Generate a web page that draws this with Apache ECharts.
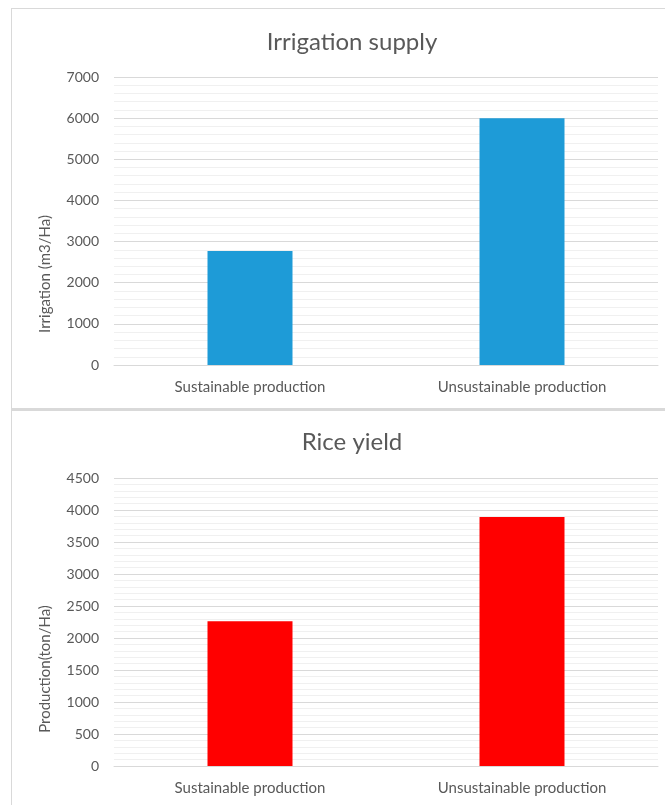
<!DOCTYPE html>
<html>
<head>
<meta charset="utf-8">
<script src="https://cdn.jsdelivr.net/npm/echarts@6/dist/echarts.min.js"></script>
<style>
  html, body { margin: 0; padding: 0; background: #ffffff; }
  #wrap { position: relative; width: 665px; height: 805px; overflow: hidden; }
  .frame { position: absolute; border: 1px solid #d9d9d9; background: #ffffff; }
  #frame1 { left: 11px; top: 8px; width: 700px; height: 399px; }
  #frame2 { left: 11px; top: 409px; width: 700px; height: 420px; border-top: 2px solid #d9d9d9; }
  #main { position: absolute; left: 0; top: 0; width: 665px; height: 805px; }
</style>
</head>
<body>
<div id="wrap">
  <div class="frame" id="frame1"></div>
  <div class="frame" id="frame2"></div>
  <div id="main"></div>
</div>
<script>
// Categories shared by both panels
const categories = ['Sustainable production', 'Unsustainable production'];

// Irrigation supply (m3/Ha)
const irrigationValues = [2770, 6000];
const irrigationMax = 7000;
const irrigationStep = 1000;

// Rice yield (ton/Ha)
const yieldValues = [2260, 3890];
const yieldMax = 4500;
const yieldStep = 500;

const textColor = '#595959';
const fontFamily = 'Lato, "Open Sans", sans-serif';

// nameShift pushes the rotated axis title down along the axis
function valueAxis(gridIndex, max, step, name, nameShift) {
  return {
    type: 'value',
    gridIndex: gridIndex,
    min: 0,
    max: max,
    interval: step,
    name: name,
    nameLocation: 'middle',
    nameGap: 61,
    nameTextStyle: {
      color: textColor, fontSize: 15, fontFamily: fontFamily,
      padding: [0, nameShift, 0, 0]
    },
    axisLine: { show: false },
    axisTick: { show: false },
    axisLabel: {
      color: textColor, fontSize: 14, fontFamily: fontFamily, margin: 15,
      formatter: function (v) { return String(v); }
    },
    splitLine: { show: true, lineStyle: { color: '#d9d9d9', width: 1 } },
    minorTick: { show: false, splitNumber: 5 },
    minorSplitLine: { show: true, lineStyle: { color: '#f0f0f0', width: 1 } }
  };
}

function categoryAxis(gridIndex) {
  return {
    type: 'category',
    gridIndex: gridIndex,
    data: categories,
    axisLine: { show: true, lineStyle: { color: '#d9d9d9', width: 1 } },
    axisTick: { show: false },
    axisLabel: { color: textColor, fontSize: 15, fontFamily: fontFamily, margin: 15 }
  };
}

const chart = echarts.init(document.getElementById('main'), null, { renderer: 'canvas' });
chart.setOption({
  backgroundColor: 'transparent',
  animation: false,
  title: [
    {
      text: 'Irrigation supply', left: 347, top: 25, textAlign: 'center',
      textStyle: { color: textColor, fontSize: 24, fontWeight: 'normal', fontFamily: fontFamily }
    },
    {
      text: 'Rice yield', left: 347, top: 425, textAlign: 'center',
      textStyle: { color: textColor, fontSize: 24, fontWeight: 'normal', fontFamily: fontFamily }
    }
  ],
  grid: [
    { left: 114, right: 7, top: 77, bottom: 440, containLabel: false },
    { left: 114, right: 7, top: 478, bottom: 39, containLabel: false }
  ],
  xAxis: [categoryAxis(0), categoryAxis(1)],
  yAxis: [
    valueAxis(0, irrigationMax, irrigationStep, 'Irrigation (m3/Ha)', 106),
    valueAxis(1, yieldMax, yieldStep, 'Production(ton/Ha)', 94)
  ],
  series: [
    {
      type: 'bar', xAxisIndex: 0, yAxisIndex: 0,
      data: irrigationValues, barWidth: 85,
      itemStyle: { color: '#1e9bd7' }
    },
    {
      type: 'bar', xAxisIndex: 1, yAxisIndex: 1,
      data: yieldValues, barWidth: 85,
      itemStyle: { color: '#ff0000' }
    }
  ]
});
</script>
</body>
</html>
